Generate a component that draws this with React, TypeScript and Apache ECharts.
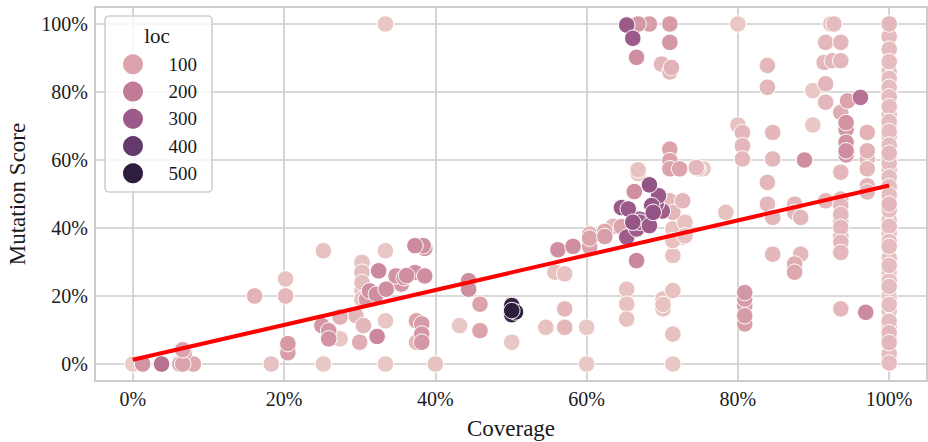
import React, { useEffect, useRef } from "react";
import * as echarts from "echarts";

// ---------- data (coverage %, mutation score %, loc) ----------
const lowCoveragePoints: [number, number, number][] = [
  [0, 0, 20], [1.3, 0, 140], [3.8, 0, 230], [6.2, 0, 90], [6.6, 0, 100], [8.0, 0, 90],
  [6.6, 4.2, 100], [6.8, 3.2, 90],
  [18.3, 0, 40], [25.2, 0, 30], [33.4, 0, 30], [40, 0, 40],
  [20.5, 6.0, 120], [20.5, 4.5, 110], [20.5, 3.3, 110],
  [16.1, 20, 70], [20.2, 25, 40], [20.2, 20, 60], [25.2, 33.3, 40], [33.4, 33.3, 30], [33.4, 100, 30],
  [30.3, 29.9, 40], [30.3, 27, 50], [30.3, 24, 50], [30.3, 21.6, 40], [30.3, 19.1, 40],
  [32.5, 27.4, 170], [31.3, 21.5, 150], [32.2, 20.5, 150], [33.5, 22, 150], [34.8, 25.9, 140],
  [35.9, 25.4, 150], [37.3, 26.9, 150], [38.6, 25.9, 150], [30.9, 19, 120], [34.8, 24, 130],
  [36.2, 26, 150], [35.5, 23.5, 130],
  [29.5, 14.2, 60], [30.5, 11.3, 60], [27.4, 13.8, 70], [25, 11.3, 130], [25.9, 9.8, 130],
  [25.9, 7.4, 140], [27.4, 7.4, 30], [30, 6.4, 80], [32.3, 8.1, 170], [33.4, 12.7, 30],
  [37.5, 12.7, 100], [38.2, 11.8, 120], [38.2, 8.8, 130], [38.2, 6.4, 130], [37.5, 6.4, 60],
  [43.2, 11.3, 30], [37.3, 34.8, 160], [38.4, 34.8, 150], [38.6, 34, 140],
  [44.4, 24.5, 150], [44.4, 22, 150], [44.4, 23.3, 140], [45.9, 17.6, 100], [45.9, 9.8, 100],
];

const midCoveragePoints: [number, number, number][] = [
  [50.1, 15.7, 500], [50.1, 17.2, 480], [50.6, 15.3, 490], [50.1, 14.5, 480], [50.1, 6.4, 30],
  [54.6, 10.8, 40], [57.1, 16.2, 60], [57.1, 10.8, 60], [60, 10.8, 30], [60, 0, 30], [71.4, 0, 30],
  [56.2, 33.6, 150], [58.2, 34.6, 150], [60.4, 34.5, 100], [60.4, 37, 100], [62.4, 37.5, 110],
  [64.6, 40.4, 100], [60.4, 38.2, 70], [62.4, 39, 90], [63.5, 40.5, 60],
  [55.8, 27, 40], [57.1, 26.5, 40], [66.6, 30.4, 170],
  [65.3, 22, 40], [65.3, 17.6, 40], [65.3, 13.2, 40], [70.1, 19.1, 40], [70.1, 16.2, 40],
  [70.1, 17.5, 40], [71.4, 21.6, 40], [71.4, 8.8, 40],
  [71.4, 31.9, 40], [71.4, 37.3, 40], [72.7, 37.3, 40], [71.4, 39.7, 40], [71.4, 36.3, 40],
  [73, 41.7, 40], [73, 37.7, 40],
  [66.3, 50.7, 150], [66.8, 57.1, 40], [66.8, 56, 30],
  [71, 63.2, 100], [71, 59.8, 100], [71, 57.4, 100], [72.3, 57.4, 100], [74.5, 57.8, 60], [74.7, 57.4, 40],
  [71, 48, 60], [71.4, 44.6, 60], [72.7, 48, 60], [78.4, 44.6, 40], [75.4, 57.4, 30],
];

const purpleCluster: [number, number, number][] = [
  [64.6, 46, 300], [66.1, 41.7, 310], [67, 42.6, 300], [68.8, 44.6, 320], [69.2, 47.1, 300],
  [65.3, 37.3, 290], [65.5, 45.6, 300], [68.6, 46.6, 310], [68.3, 52.7, 320], [67, 41.7, 300],
  [68.3, 40.7, 300], [66.6, 39.7, 290], [69.5, 49.5, 300], [70, 45, 290],
];

const topPoints: [number, number, number][] = [
  [65.3, 99.7, 300], [66.8, 100, 130], [68.3, 100, 110], [71, 100, 120], [66.1, 95.8, 300],
  [71, 94.6, 130], [66.6, 90.2, 150], [69.9, 88.2, 60], [71.2, 87.2, 70], [71, 85.9, 60],
];

const highCoveragePoints: [number, number, number][] = [
  [80, 100, 30], [92.3, 100, 50], [92.7, 100, 50], [91.6, 94.6, 60], [93.6, 94.6, 60],
  [91.4, 88.7, 60], [92.5, 89.2, 60], [93.6, 89.2, 60], [83.9, 87.8, 60], [83.9, 81.4, 60],
  [89.9, 80.4, 30], [91.6, 82.4, 60], [91.6, 77, 60], [94.5, 77.4, 100], [96.2, 78.4, 230], [93.6, 74, 80],
  [94.3, 71, 140], [94.3, 69, 130], [94.3, 65.2, 140], [94.3, 62.7, 150], [94.3, 61.5, 140],
  [89.9, 70.3, 30], [80, 70.3, 40], [80.6, 68.1, 60], [80.6, 64.2, 60], [80.6, 60.3, 60],
  [84.6, 68.1, 60], [84.6, 60.3, 60], [83.9, 53.4, 60], [88.8, 60, 150],
  [97.1, 68.1, 70], [97.1, 62.7, 70], [97.1, 60.3, 60], [97.1, 57.4, 60], [97.1, 52.4, 60],
  [97.1, 50.6, 60], [93.6, 56.4, 60],
  [83.9, 47, 60], [84.6, 43.1, 60], [87.5, 47, 60], [87.5, 44.6, 60], [88.3, 43.1, 60],
  [87.5, 45.8, 50], [91.6, 48, 60],
  [93.6, 48.5, 60], [93.6, 46.6, 60], [93.6, 44, 60], [93.6, 40.2, 60], [93.6, 35.8, 60],
  [93.6, 32.8, 60], [93.6, 37.5, 50], [93.6, 42, 50],
  [84.6, 32.3, 60], [88.3, 32.3, 60], [87.5, 29.4, 80], [87.5, 27, 90], [87.5, 28.2, 70],
  [80.9, 21, 130], [80.9, 19.1, 120], [80.9, 17.2, 110], [80.9, 14.2, 120], [80.9, 11.8, 110],
  [93.6, 16.2, 60], [96.9, 15.2, 160],
];

const fullCoveragePoints: [number, number, number][] = [
  [100, 100, 60], [100, 96.3, 50], [100, 92.6, 50], [100, 88.9, 50], [100, 86, 40], [100, 84, 50],
  [100, 81.4, 50], [100, 79.5, 40], [100, 78.6, 50], [100, 75.7, 50], [100, 73.3, 40], [100, 71.3, 50],
  [100, 70, 40], [100, 68.4, 50], [100, 66.9, 40], [100, 64.4, 50], [100, 62, 60], [100, 60.5, 50],
  [100, 59.1, 50], [100, 57.1, 40], [100, 55, 50], [100, 52.2, 50], [100, 49.7, 50], [100, 47, 60],
  [100, 45.3, 50], [100, 42.4, 40], [100, 40.5, 50], [100, 38.5, 40], [100, 36, 50], [100, 34.6, 50],
  [100, 31.2, 40], [100, 29, 50], [100, 26.8, 30], [100, 24.5, 40], [100, 22.8, 50], [100, 19.9, 30],
  [100, 17.5, 50], [100, 15.5, 40], [100, 12.6, 50], [100, 11, 40], [100, 9.2, 60], [100, 7.8, 50],
  [100, 6.3, 60], [100, 3, 50], [100, 1.5, 40], [100, 0.3, 50],
];

// regression line end points
const regCoverage = [0, 100];
const regScore = [1.25, 52.5];

const tickValues = [0, 20, 40, 60, 80, 100];
const locLevels = [100, 200, 300, 400, 500];
const palette = ["#efd6d0", "#dca3ab", "#c27b97", "#9c5a8a", "#643a6d", "#2d1e3e"];

const FONT = "'Liberation Serif', 'DejaVu Serif', serif";
const TEXT = "#1a1a1a";

export default function App() {
  const ref = useRef<HTMLDivElement>(null);

  useEffect(() => {
    if (!ref.current) return;
    const chart = echarts.init(ref.current, null, { renderer: "svg" });

    const points = [
      ...lowCoveragePoints,
      ...midCoveragePoints,
      ...topPoints,
      ...highCoveragePoints,
      ...fullCoveragePoints,
      ...purpleCluster,
    ]
      .slice()
      .sort((a, b) => a[2] - b[2]);

    const fmt = (v: number) => (tickValues.indexOf(Math.round(v * 1000) / 1000) >= 0 ? `${v}%` : "");

    const legendX = 105;
    const legendY = 16;
    const legendGraphic: any[] = [
      {
        type: "rect",
        z: 100,
        shape: { x: legendX, y: legendY, width: 107, height: 176, r: 4 },
        style: { fill: "rgba(255,255,255,0.8)", stroke: "#cfcfcf", lineWidth: 1.6 },
      },
      {
        type: "text",
        z: 101,
        x: 157,
        y: 36,
        style: {
          text: "loc",
          font: `21px ${FONT}`,
          fill: TEXT,
          align: "center",
          verticalAlign: "middle",
          textAlign: "center",
          textVerticalAlign: "middle",
        },
      },
    ];
    locLevels.forEach((lv, i) => {
      const cy = 64.3 + i * 27.25;
      legendGraphic.push({
        type: "circle",
        z: 101,
        shape: { cx: 133, cy, r: 10 },
        style: { fill: palette[i + 1] },
      });
      legendGraphic.push({
        type: "text",
        z: 101,
        x: 197,
        y: cy,
        style: {
          text: String(lv),
          font: `19px ${FONT}`,
          fill: TEXT,
          align: "right",
          verticalAlign: "middle",
          textAlign: "right",
          textVerticalAlign: "middle",
        },
      });
    });

    chart.setOption({
      animation: false,
      backgroundColor: "#ffffff",
      grid: {
        left: 95,
        right: 1,
        top: 7,
        bottom: 61,
        show: true,
        borderColor: "#cccccc",
        borderWidth: 2,
        backgroundColor: "transparent",
        containLabel: false,
        outerBoundsMode: "none",
      },
      xAxis: {
        type: "value",
        min: -5,
        max: 105,
        splitNumber: 5,
        axisLine: { show: false },
        axisTick: { show: false },
        splitLine: { show: true, lineStyle: { color: "#cccccc", width: 1.6 } },
        axisLabel: { formatter: fmt, fontFamily: FONT, fontSize: 20, color: TEXT, margin: 8 },
        name: "Coverage",
        nameLocation: "middle",
        nameGap: 36,
        nameTextStyle: { fontFamily: FONT, fontSize: 23, color: TEXT },
      },
      yAxis: {
        type: "value",
        min: -5,
        max: 105,
        splitNumber: 5,
        axisLine: { show: false },
        axisTick: { show: false },
        splitLine: { show: true, lineStyle: { color: "#cccccc", width: 1.6 } },
        axisLabel: { formatter: fmt, fontFamily: FONT, fontSize: 20, color: TEXT, margin: 7 },
        name: "Mutation Score",
        nameLocation: "middle",
        nameGap: 66,
        nameTextStyle: { fontFamily: FONT, fontSize: 23, color: TEXT },
      },
      visualMap: {
        type: "continuous",
        show: false,
        min: 0,
        max: 500,
        dimension: 2,
        seriesIndex: 0,
        inRange: { color: palette },
      },
      series: [
        {
          type: "scatter",
          data: points,
          symbolSize: 16.5,
          itemStyle: { borderColor: "#ffffff", borderWidth: 1, opacity: 1 },
          z: 2,
        },
        {
          type: "line",
          data: regCoverage.map((x, i) => [x, regScore[i]]),
          showSymbol: false,
          symbol: "none",
          lineStyle: { color: "#ff0000", width: 4 },
          z: 3,
        },
      ],
      graphic: legendGraphic,
    });

    return () => chart.dispose();
  }, []);

  return (
    <div
      ref={ref}
      style={{ position: "absolute", left: 0, top: 0, width: 928, height: 442 }}
    />
  );
}
